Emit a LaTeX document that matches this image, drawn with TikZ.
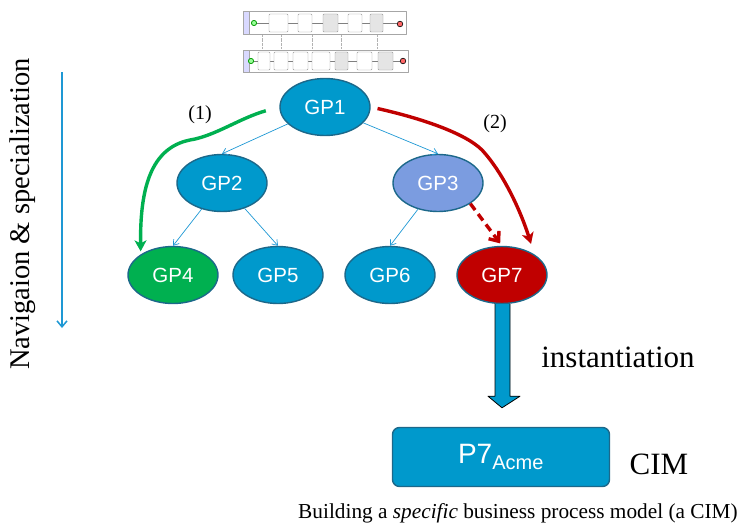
\documentclass[tikz,border=0pt]{standalone}
\usepackage{fontspec}
\setmainfont{Liberation Serif}
\setsansfont{Liberation Sans}
\usepackage{tikz}
\usetikzlibrary{arrows.meta, positioning, shapes.geometric, calc}

\definecolor{gpblue}{RGB}{0,153,204}
\definecolor{gpborder}{RGB}{28,104,138}
\definecolor{gplight}{RGB}{123,156,224}
\definecolor{gpgreen}{RGB}{0,176,80}
\definecolor{gpred}{RGB}{192,0,0}
\definecolor{navblue}{RGB}{30,152,212}

\tikzset{
  gpnode/.style={ellipse, draw=gpborder, line width=1.4pt, text=white,
    minimum width=90, minimum height=57, inner sep=0pt,
    font=\sffamily\fontsize{20.5}{24}\selectfont},
  treeline/.style={navblue, line width=0.7pt, -{Straight Barb[length=5pt,width=7pt]}},
  patharrow/.style={line width=3.4pt, -{Stealth[length=11pt,width=12pt,inset=3pt]}},
  pool/.style={draw=gray!70, line width=0.5pt, fill=white},
  task/.style={draw=gray!80, line width=0.4pt, rounded corners=1pt},
}

\begin{document}
\begin{tikzpicture}[x=1pt,y=-1pt,line join=round]
    \useasboundingbox (0,0) rectangle (741,527);

    % process thumbnail
    \draw[pool] (243,11) rectangle (406,34);
    \draw[pool, fill=blue!15] (243,11) rectangle (249,34);
    \draw[pool] (243,50) rectangle (408,72);
    \draw[pool, fill=blue!15] (243,50) rectangle (249,72);
    \draw[gray, line width=0.4pt] (256,23) -- (397,23);
    \draw[gray, line width=0.4pt] (253,61) -- (400,61);
    \foreach \xa/\xb/\shade in {269/288/white, 298/312/white, 323/338/gray!20, 348/362/white, 370/383/gray!20} {
      \draw[task, fill=\shade] (\xa,14) rectangle (\xb,32);
    }
    \foreach \xa/\xb/\shade in {258/270/white, 274/288/white, 293/308/white, 312/330/white, 335/348/gray!20, 357/372/white, 378/393/gray!20} {
      \draw[task, fill=\shade] (\xa,52) rectangle (\xb,70);
    }
    \foreach \xa in {262, 281, 312, 341, 377} {
      \draw[gray!60, line width=0.3pt, densely dotted] (\xa,35) -- (\xa,49);
    }
    \draw[green!60!black, fill=green!40, line width=0.8pt] (254,23) circle (2.6);
    \draw[green!60!black, fill=green!40, line width=0.8pt] (251,61) circle (2.6);
    \draw[black, fill=red!60, line width=0.6pt] (400,24) circle (2.8);
    \draw[black, fill=red!60, line width=0.6pt] (403,61) circle (2.8);

    % Nodes
    \foreach \name/\x/\y/\col in {
      GP1/325/107/gpblue,
      GP2/222/183/gpblue,
      GP3/438/183/gplight,
      GP4/173/275/gpgreen,
      GP5/278/275/gpblue,
      GP6/390/275/gpblue,
      GP7/502/275/gpred} {
      \node[gpnode, fill=\col] (\name) at (\x,\y) {\name};
    }

    % tree arrows
    \draw[treeline] (GP1) -- (GP2.north);
    \draw[treeline] (GP1) -- (GP3.north);
    \draw[treeline] (GP2) -- (GP4.north);
    \draw[treeline] (GP2) -- (GP5.north);
    \draw[treeline] (GP3) -- (GP6.north);

    % path (1) and path (2)
    \draw[patharrow, gpgreen, shorten <=14pt, shorten >=3pt] (GP1.west)
      .. controls (240,118) and (215,136) .. (190,140)
      .. controls (150,148) and (140,190) .. (GP4.north west);
    \draw[patharrow, gpred, shorten <=7pt, shorten >=11pt] (GP1.east)
      .. controls (420,118) and (465,133) .. (482,150)
      .. controls (505,175) and (522,215) .. (GP7.north east);
    \draw[gpred, line width=3.4pt, dash pattern=on 8pt off 5pt, shorten >=3pt,
      -{Straight Barb[length=8pt,width=13pt,line width=3.4pt]}] (GP3.south east) -- (GP7.north);
    \node[font=\fontsize{20}{24}\selectfont] (lab1) at (200,115) {(1)};
    \node[font=\fontsize{20}{24}\selectfont] (lab2) at (495,124) {(2)};

    % navigation arrow
    \coordinate (navtop) at (62,72);
    \coordinate (navbot) at (62,328);
    \draw[navblue, line width=1.5pt, -{Straight Barb[length=6pt,width=10pt]}] (navtop) -- (navbot);
    \node[rotate=90, font=\fontsize{28.5}{32}\selectfont] (navtext) at (23,214) {Navigaion \& specialization};

    % instantiation
    \node[rectangle, rounded corners=7pt, draw=gpborder, line width=1.4pt, fill=gpblue,
      minimum width=217, minimum height=59, text=white,
      font=\sffamily\fontsize{28}{32}\selectfont] (P7) at (501,457) {P7\textsubscript{\fontsize{20}{24}\selectfont Acme}};
    \draw[black, line width=0.8pt, fill=gpblue]
      ($(GP7.south)+(-7,0)$) -- ($(GP7.south)+(-7,92)$) -- ($(GP7.south)+(-14,92)$)
      -- ($(P7.north)+(1,-19)$) -- ($(GP7.south)+(18,92)$) -- ($(GP7.south)+(8,92)$)
      -- ($(GP7.south)+(8,0)$);
    \node[font=\fontsize{31}{34}\selectfont] (inst) at (618,357) {instantiation};
    \node[font=\fontsize{31}{35}\selectfont] (cim) at (659,464) {CIM};
    \node[font=\fontsize{21.3}{24}\selectfont] (caption) at (518,513) {Building a \textit{specific} business process model (a CIM)};

\end{tikzpicture}
\end{document}
